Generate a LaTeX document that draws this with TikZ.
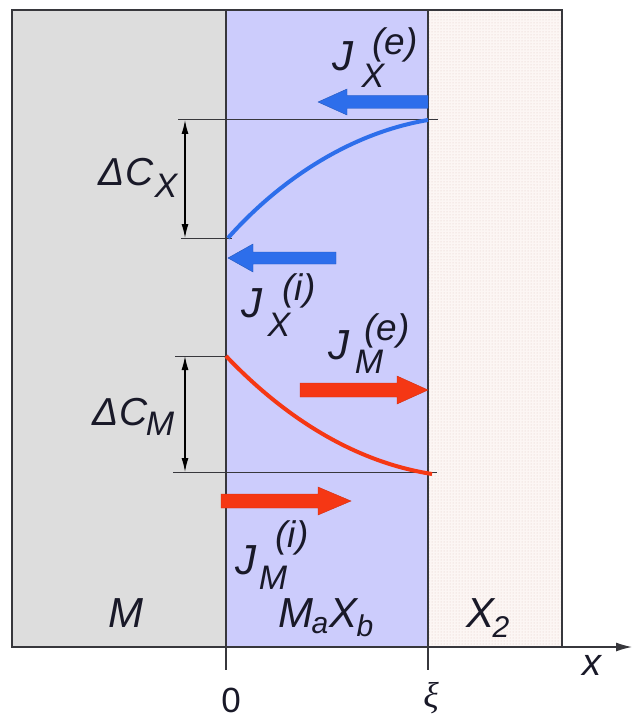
\documentclass[tikz,border=0pt]{standalone}
\usepackage{fontspec}
\setmainfont{Liberation Sans}
\newfontfamily\greekserif{Liberation Serif}
\usetikzlibrary{arrows.meta,patterns}
\definecolor{grayfill}{RGB}{221,221,221}
\definecolor{lav}{RGB}{204,204,252}
\definecolor{pinkfill}{RGB}{252,246,244}
\definecolor{dotcol}{RGB}{225,200,195}
\definecolor{frame}{RGB}{55,55,60}
\definecolor{arrblue}{RGB}{45,110,235}
\definecolor{arrred}{RGB}{245,55,20}
\definecolor{txt}{RGB}{25,25,40}
\tikzset{
  bigtxt/.style={inner sep=0pt, text=txt, font=\fontsize{42}{46}\selectfont\itshape},
  suptxt/.style={inner sep=0pt, text=txt, font=\fontsize{37}{40}\selectfont\itshape},
  subtxt/.style={inner sep=0pt, text=txt, font=\fontsize{34}{38}\selectfont\itshape},
  axtxt/.style={inner sep=0pt, text=txt, font=\fontsize{35}{38}\selectfont},
  dimline/.style={line width=1pt, draw=frame},
  dimarrow/.style={line width=1.3pt, draw=black, {Latex[length=14pt,width=7pt]}-{Latex[length=14pt,width=7pt]}},
  bluearr/.style={fill=arrblue, draw=arrblue!80!black, line width=0.4pt},
  redarr/.style={fill=arrred, draw=arrred!85!black, line width=0.4pt},
  bluecurve/.style={line width=4pt, draw=arrblue},
  redcurve/.style={line width=4pt, draw=arrred},
  border/.style={line width=1.4pt, draw=frame},
}
\begin{document}
\begin{tikzpicture}[x=1pt,y=-1pt]
\useasboundingbox (0,0) rectangle (633,719);
% regions
\fill[grayfill] (12,10) rectangle (226,647);
\fill[lav] (226,10) rectangle (428,647);
\fill[pinkfill] (428,10) rectangle (562,647);
\fill[pattern=dots, pattern color=dotcol] (428,10) rectangle (562,647);
\draw[border] (12,10) rectangle (562,647);
\draw[border] (226,10) -- (226,647);
\draw[border] (428,10) -- (428,647);
% axis
\coordinate (axL) at (12,647);
\coordinate (axR) at (632,647);
\draw[line width=1.3pt, draw=frame, -{Latex[length=16pt,width=9pt]}] (axL) -- (axR);
\coordinate (t0a) at (226,618);
\coordinate (t0b) at (226,670);
\coordinate (txa) at (428,647);
\coordinate (txb) at (428,670);
\draw[line width=1.6pt, draw=frame] (t0a) -- (t0b);
\draw[line width=1.3pt, draw=frame] (txa) -- (txb);
\node[axtxt] (zero) at (231,700) {0};
\node[axtxt, font=\fontsize{36}{40}\selectfont\greekserif\itshape] (xi) at (431,698) {ξ};
\node[bigtxt, font=\fontsize{38}{42}\selectfont\itshape] (xlab) at (592,665) {x};
% region labels
\node[bigtxt] (lM) at (126,613) {M};
\node[bigtxt] (lMa) at (296,613) {M};
\node[subtxt, font=\fontsize{30}{34}\selectfont\itshape] (la) at (320,626) {a};
\node[bigtxt] (lX) at (344,613) {X};
\node[subtxt, font=\fontsize{30}{34}\selectfont\itshape] (lb) at (365,626) {b};
\node[bigtxt] (lX2) at (480,613) {X};
\node[subtxt, font=\fontsize{30}{34}\selectfont\itshape] (l2) at (501,627) {2};
% Delta C_X dimension
\coordinate (dxT1) at (178,120);
\coordinate (dxT2) at (438,120);
\coordinate (dxB1) at (181,238);
\coordinate (dxB2) at (232,238);
\draw[dimline] (dxT1) -- (dxT2);
\draw[dimline] (dxB1) -- (dxB2);
\coordinate (dxa) at (185,120);
\coordinate (dxb) at (185,238);
\draw[dimarrow] (dxa) -- (dxb);
\node[bigtxt, font=\fontsize{39}{42}\selectfont\itshape] (dCX) at (126,172) {ΔC};
\node[subtxt] (dCXs) at (166,186) {X};
% Delta C_M dimension
\coordinate (dmT1) at (175,356);
\coordinate (dmT2) at (228,356);
\coordinate (dmB1) at (173,472);
\coordinate (dmB2) at (437,472);
\draw[dimline] (dmT1) -- (dmT2);
\draw[dimline] (dmB1) -- (dmB2);
\coordinate (dma) at (185,356);
\coordinate (dmb) at (185,472);
\draw[dimarrow] (dma) -- (dmb);
\node[bigtxt, font=\fontsize{39}{42}\selectfont\itshape] (dCM) at (120,412) {ΔC};
\node[subtxt] (dCMs) at (160,424) {M};
% concentration curves
\coordinate (bc0) at (228,238);
\coordinate (bc1) at (428,120);
\draw[bluecurve] (bc0) .. controls (275,185) and (345,134) .. (bc1);
\coordinate (rc0) at (226,356);
\coordinate (rc1) at (432,474);
\draw[redcurve] (rc0) .. controls (285,418) and (355,462) .. (rc1);
% flux arrows
\fill[bluearr] (428,95.5) -- (347,95.5) -- (347,89) -- (318,102) -- (347,115) -- (347,108.5) -- (428,108.5) -- cycle;
\fill[bluearr] (336,252) -- (253,252) -- (253,244) -- (228,258) -- (253,272) -- (253,264) -- (336,264) -- cycle;
\fill[redarr] (300,383) -- (397,383) -- (397,376) -- (428,390) -- (397,404) -- (397,397) -- (300,397) -- cycle;
\fill[redarr] (221,494) -- (318,494) -- (318,487) -- (351,501) -- (318,515) -- (318,508) -- (221,508) -- cycle;
% flux labels
\node[bigtxt] (jxe) at (343,56) {J};
\node[suptxt] (jxes) at (395,45) {(e)};
\node[subtxt] (jxeb) at (373,76) {X};
\node[bigtxt] (jxi) at (252,303) {J};
\node[suptxt] (jxis) at (299,291) {(i)};
\node[subtxt] (jxib) at (279,325) {X};
\node[bigtxt] (jme) at (339,345) {J};
\node[suptxt] (jmes) at (387,331) {(e)};
\node[subtxt] (jmeb) at (369,362) {M};
\node[bigtxt] (jmi) at (246,560) {J};
\node[suptxt] (jmis) at (292,538) {(i)};
\node[subtxt] (jmib) at (273,578) {M};
\end{tikzpicture}
\end{document}
